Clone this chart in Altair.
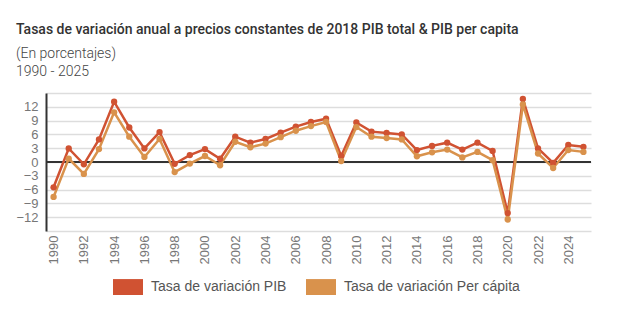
import altair as alt
import pandas as pd

years = list(range(1990, 2026))
pib = [-5.5, 2.95, -0.5, 4.9, 13.1, 7.5, 2.95, 6.5, -0.4, 1.5,
       2.8, 0.7, 5.5, 4.2, 5.0, 6.4, 7.7, 8.7, 9.4, 1.3,
       8.6, 6.6, 6.3, 6.0, 2.6, 3.5, 4.2, 2.7, 4.2, 2.4,
       -11.1, 13.7, 2.95, -0.2, 3.7, 3.3]
per_capita = [-7.6, 0.75, -2.6, 2.8, 10.8, 5.5, 1.1, 5.0, -2.2, -0.35,
              1.3, -0.7, 4.4, 3.2, 4.0, 5.4, 6.8, 7.8, 8.7, 0.2,
              7.6, 5.5, 5.2, 4.9, 1.25, 2.1, 2.7, 1.0, 2.2, 0.4,
              -12.5, 12.5, 1.85, -1.3, 2.6, 2.2]
series_names = ["Tasa de variación PIB", "Tasa de variación Per cápita"]
colors = ["#d05232", "#d9924c"]
x_ticks = list(range(1990, 2026, 2))
y_ticks = list(range(-15, 16, 3))

rows = []
for i, y in enumerate(years):
    rows.append({"year": y, "serie": series_names[0], "valor": pib[i], "ord": 0})
    rows.append({"year": y, "serie": series_names[1], "valor": per_capita[i], "ord": 1})
df = pd.DataFrame(rows)

label_font = "Liberation Sans, Arial, sans-serif"
title_font = "Roboto, sans-serif"

color = alt.Color(
    "serie:N",
    scale=alt.Scale(domain=series_names, range=colors),
    sort=series_names,
    legend=alt.Legend(
        title=None, orient="none", direction="horizontal",
        legendX=67, legendY=179,
        symbolType="M-1,-0.53H1V0.53H-1Z", symbolSize=900,
        symbolStrokeWidth=0, labelFontSize=14, labelColor="#555555",
        labelFont=label_font, labelOffset=8, columnPadding=19, labelLimit=0,
    ),
)

x = alt.X("year:O", axis=alt.Axis(
    title=None, values=x_ticks, labelAngle=270, ticks=False, domain=False,
    labelColor="#777777", labelFontSize=13, labelFont=label_font, labelPadding=4,
    grid=False, labelBaseline="middle", labelAlign="right"))
y_axis = alt.Axis(title=None, values=y_ticks, ticks=False, labelOverlap=False,
                  labelExpr="abs(datum.value) == 15 ? '' : datum.label",
                  labelColor="#777777", labelFontSize=13, labelFont=label_font,
                  labelPadding=8, domainColor="#333333", domainWidth=2,
                  grid=True, gridColor="#dddddd", gridWidth=1.5)
y_scale = alt.Scale(domain=[-15, 15], nice=False)
y = alt.Y("valor:Q", scale=y_scale, axis=y_axis)

base = alt.Chart(df)
lines = base.mark_line(strokeWidth=2.5).encode(x=x, y=y, color=color, order="ord:Q",
                                                detail="serie:N")
points = base.mark_circle(size=40, opacity=1).encode(x=x, y=y, color=color)
zero = alt.Chart(pd.DataFrame({"valor": [0]})).mark_rule(color="#333333", strokeWidth=2).encode(
    y=alt.Y("valor:Q", scale=y_scale, axis=y_axis))

chart = alt.layer(zero, lines, points).properties(
    width=545, height=138,
    autosize=alt.AutoSizeParams(type="none"),
    padding={"left": 46, "top": 93, "right": 46, "bottom": 94},
    title=alt.Title(
        "Tasas de variación anual a precios constantes de 2018 PIB total & PIB per capita",
        subtitle=["(En porcentajes)", "1990 - 2025"],
        anchor="start", frame="group", dx=-30, offset=8,
        font=title_font, fontSize=14, fontWeight=500, color="#333333",
        subtitleFont=title_font, subtitleFontSize=14, subtitleFontWeight=300,
        subtitleColor="#444444",
        subtitleLineHeight=18, subtitlePadding=10,
    ),
).configure_view(stroke=None)

chart.save("out.html", embed_options={"renderer": "svg", "actions": False})
